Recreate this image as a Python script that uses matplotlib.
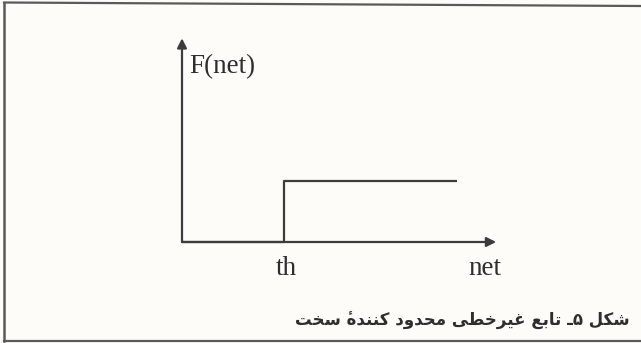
import matplotlib
matplotlib.use("Agg")
import matplotlib.pyplot as plt

# step function: F(net) = 0 below th, 1 from th on
net = [0.0, 1.0, 2.7]
F = [0.0, 1.0, 1.0]
th = 1.0
net_max = 3.08
F_max = 3.34

x_label = "net"
y_label = "F(net)"
th_label = "th"
caption = "شکل ۵ـ تابع غیرخطی محدود کنندهٔ سخت"

# contextual forms (isolated, final, initial, medial) for the letters used
FORMS = {
    "ش": ("\uFEB5", "\uFEB6", "\uFEB7", "\uFEB8"),
    "ک": ("\uFB8E", "\uFB8F", "\uFB90", "\uFB91"),
    "ل": ("\uFEDD", "\uFEDE", "\uFEDF", "\uFEE0"),
    "ت": ("\uFE95", "\uFE96", "\uFE97", "\uFE98"),
    "ا": ("\uFE8D", "\uFE8E", None, None),
    "ب": ("\uFE8F", "\uFE90", "\uFE91", "\uFE92"),
    "ع": ("\uFEC9", "\uFECA", "\uFECB", "\uFECC"),
    "غ": ("\uFECD", "\uFECE", "\uFECF", "\uFED0"),
    "ی": ("\uFBFC", "\uFBFD", "\uFBFE", "\uFBFF"),
    "ر": ("\uFEAD", "\uFEAE", None, None),
    "خ": ("\uFEA5", "\uFEA6", "\uFEA7", "\uFEA8"),
    "ط": ("\uFEC1", "\uFEC2", "\uFEC3", "\uFEC4"),
    "م": ("\uFEE1", "\uFEE2", "\uFEE3", "\uFEE4"),
    "ح": ("\uFEA1", "\uFEA2", "\uFEA3", "\uFEA4"),
    "د": ("\uFEA9", "\uFEAA", None, None),
    "و": ("\uFEED", "\uFEEE", None, None),
    "ن": ("\uFEE5", "\uFEE6", "\uFEE7", "\uFEE8"),
    "ه": ("\uFEE9", "\uFEEA", "\uFEEB", "\uFEEC"),
    "س": ("\uFEB1", "\uFEB2", "\uFEB3", "\uFEB4"),
}
MARKS = "\u0654"


def joins_forward(c):
    if c == "ـ":
        return True
    return c in FORMS and FORMS[c][2] is not None


def joins_back(c):
    return c == "ـ" or c in FORMS


def shape_rtl(text):
    # keep each letter together with its combining mark
    clusters = []
    for c in text:
        if c in MARKS and clusters:
            clusters[-1] += c
        else:
            clusters.append(c)
    out = []
    for i, cl in enumerate(clusters):
        c = cl[0]
        if c not in FORMS:
            out.append(cl)
            continue
        prev = clusters[i - 1][0] if i > 0 else " "
        nxt = clusters[i + 1][0] if i + 1 < len(clusters) else " "
        left = joins_forward(prev)
        right = joins_forward(c) and joins_back(nxt)
        iso, fin, ini, med = FORMS[c]
        if left and right:
            g = med
        elif left:
            g = fin
        elif right:
            g = ini
        else:
            g = iso
        # the mark glyph hangs to the right of the pen, so it goes first
        out.append(cl[1:] + g)
    return "".join(reversed(out))


fig = plt.figure(figsize=(6.41, 3.43), dpi=100)
fig.patch.set_facecolor("#fdfcf9")
ax = fig.add_axes([0, 0, 1, 1])
ax.set_facecolor("#fdfcf9")

# pixel layout: origin at (182, 242), th at x=284, F=1 at y=181
sx = 102.0
sy = 61.0
ax.set_xlim(-182 / sx, (641 - 182) / sx)
ax.set_ylim(-(343 - 242) / sy, 242 / sy)
ax.axis("off")

ink = "#3c3c3c"

# axes with arrow heads
ax.annotate("", xy=(net_max, 0), xytext=(0, 0),
            arrowprops=dict(arrowstyle="-|>", color=ink, lw=1.6,
                            mutation_scale=14, shrinkA=0, shrinkB=0))
ax.annotate("", xy=(0, F_max), xytext=(0, 0),
            arrowprops=dict(arrowstyle="-|>", color=ink, lw=1.6,
                            mutation_scale=14, shrinkA=0, shrinkB=0))

ax.plot(net, F, drawstyle="steps-post", color=ink, lw=1.6,
        solid_capstyle="butt")

serif = "Liberation Serif"
txt = "#2e2e2e"
ax.text(0.07, 2.87, y_label, fontsize=19.5, family=serif, color=txt,
        ha="left", va="center")
ax.text(th + 0.02, -0.43, th_label, fontsize=19.5, family=serif, color=txt,
        ha="center", va="center")
ax.text(2.81, -0.43, x_label, fontsize=19.5, family=serif, color=txt,
        ha="left", va="center")

ax.text(630 / sx - 182 / sx, -(321 - 242) / sy, shape_rtl(caption),
        fontsize=12, fontweight="bold", family=["DejaVu Sans", "Noto Sans"],
        color=txt, ha="right", va="center")

# frame around the figure
edge = "#5a5a5a"
fig.add_artist(plt.Line2D([4 / 641, 1], [1 - 2.5 / 343, 1 - 6 / 343],
                          color=edge, lw=1.6))
fig.add_artist(plt.Line2D([4 / 641, 4 / 641], [1 - 2.5 / 343, 1 - 341 / 343],
                          color=edge, lw=1.8))
fig.add_artist(plt.Line2D([4 / 641, 1], [1 - 341 / 343, 1 - 341 / 343],
                          color=edge, lw=1.6))

fig.savefig("out.png", dpi=100, facecolor=fig.get_facecolor())
